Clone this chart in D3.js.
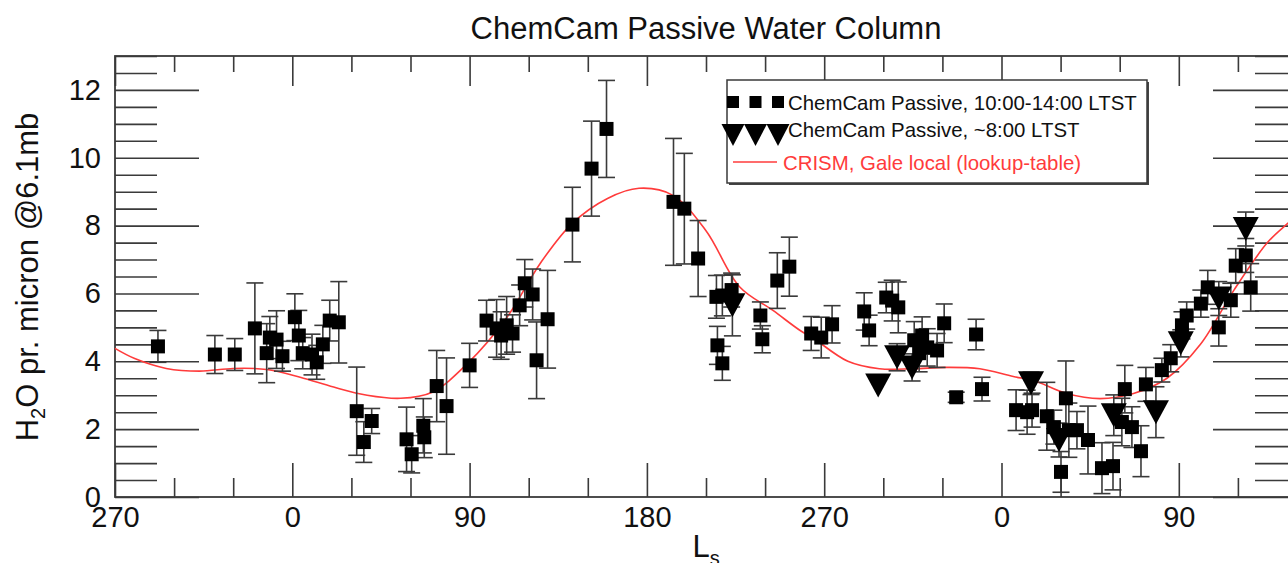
<!DOCTYPE html>
<html>
<head>
<meta charset="utf-8">
<script src="https://cdn.jsdelivr.net/npm/d3@7"></script>
<style>
  body { margin: 0; background: #fff; }
  svg { display: block; font-family: "Liberation Sans", Arial, Helvetica, sans-serif; }
</style>
</head>
<body>
<div id="chart"></div>
<script>
// ChemCam passive, 10:00-14:00 LTST (cumulative Ls, H2O, 1-sigma)
const squareLs = [291.8, 320.7, 330.8, 341, 347, 348.6, 352, 355, 361.3, 363.3, 365.3, 370, 372.4, 375.5, 379, 383.6,
  392.7, 396.3, 400.3, 418, 420.6, 426.5, 427, 433.3, 438.3, 450, 458.6, 463.7, 466, 468.8, 471.8, 475.4, 478, 482,
  484, 489.6, 502.2, 511.9, 519.5, 553.5, 559, 566, 575.3, 575.8, 578.3, 578.3, 583, 597.6, 598.6, 606.2, 612.3,
  623.4, 628.5, 634, 650.3, 652.8, 661.5, 664.5, 667.6, 675.7, 679.7, 682.3, 678.2, 687.3, 690.9, 697, 707.1, 710.1,
  727.4, 733, 735.5, 743, 752.7, 746.6, 754.2, 758.3, 750.2, 763.9, 771, 776.6, 782.6, 781.1, 786.2, 790.8, 793.3,
  801.4, 805.9, 811.6, 814, 821.2, 824.7, 830.3, 836.4, 838.9, 844, 846.5];
const squareH2O = [4.44, 4.2, 4.2, 4.97, 4.24, 4.7, 4.64, 4.15, 5.3, 4.76, 4.24, 4.2, 3.97, 4.5, 5.2, 5.15,
  2.53, 1.62, 2.24, 1.7, 1.26, 2.1, 1.76, 3.27, 2.68, 3.88, 5.2, 4.97, 4.76, 5.06, 4.82, 5.65, 6.3, 5.97,
  4.03, 5.24, 8.03, 9.68, 10.85, 8.7, 8.5, 7.03, 5.9, 4.47, 3.94, 5.94, 6.1, 5.35, 4.65, 6.38, 6.79,
  4.82, 4.7, 5.09, 5.47, 4.91, 5.88, 5.79, 5.59, 4.62, 4.76, 4.41, 4.24, 4.32, 5.12, 2.94, 4.79, 3.18,
  2.56, 2.5, 2.56, 2.38, 2.91, 2.06, 1.97, 1.97, 0.74, 1.68, 0.85, 0.91, 3.18, 2.21, 2.06, 1.35, 3.32,
  3.74, 4.09, 5.06, 5.35, 5.7, 6.18, 5.0, 5.8, 6.82, 7.12, 6.18];
const squareErr = [0.47, 0.56, 0.47, 1.34, 0.87, 0.62, 0.85, 0.44, 0.69, 0.74, 0.46, 0.6, 0.5, 0.56, 0.6, 1.2,
  1.3, 0.6, 0.37, 0.95, 0.55, 0.8, 0.6, 1.05, 1.42, 0.65, 0.6, 0.85, 0.7, 0.85, 0.55, 0.6, 0.7, 0.75,
  1.13, 1.44, 1.1, 1.4, 1.43, 1.87, 1.63, 1.12, 0.63, 0.56, 0.5, 0.6, 0.5, 0.4, 0.4, 0.82, 0.87,
  0.5, 0.6, 0.55, 0.55, 0.45, 0.45, 0.6, 0.75, 0.55, 0.55, 0.55, 0.55, 0.5, 0.57, 0.15, 0.45, 0.35,
  0.6, 0.65, 0.5, 1.0, 1.1, 0.5, 0.8, 0.55, 0.6, 1.0, 0.75, 0.7, 0.7, 0.7, 0.6, 0.75, 0.5,
  0.35, 0.4, 0.4, 0.4, 0.4, 0.5, 0.55, 0.5, 0.5, 0.5, 0.7];

// ChemCam passive, ~8:00 LTST
const triLs = [583.4, 657.4, 667, 674.6, 735, 749.2, 777, 798.4, 811, 830.3, 844];
const triH2O = [5.65, 3.29, 4.12, 3.82, 3.35, 1.68, 2.41, 2.5, 4.53, 5.85, 7.9];
const triErr = [0.9, 0, 0.4, 0.4, 0.33, 0.5, 0.6, 0.75, 0.4, 0.5, 0.5];

// CRISM, Gale local (lookup-table)
const crismLs = [270, 280, 296, 313, 330, 347, 364, 381, 398, 415, 431, 449, 469, 486, 502, 520, 536, 553, 570,
  587, 604, 618, 624, 642, 658, 675, 692, 709, 726, 736, 753, 770, 787, 804, 821, 838, 855, 865, 870];
const crismH2O = [4.38, 4.08, 3.79, 3.71, 3.79, 3.76, 3.53, 3.24, 3.0, 2.91, 3.09, 3.94, 5.3, 6.9, 8.06, 8.8, 9.1, 8.9, 7.85,
  6.2, 5.5, 4.9, 4.7, 4.0, 3.78, 3.78, 3.82, 3.78, 3.55, 3.44, 3.05, 2.9, 3.05, 3.5, 4.5, 6.1, 7.5, 8.05, 8.3];

const xMajor = [270, 360, 450, 540, 630, 720, 810];
const xMinor = d3.range(270, 871, 30).filter(d => !xMajor.includes(d));
const yMajor = [0, 2, 4, 6, 8, 10, 12];
const yMinor = d3.range(0.5, 13.01, 0.5).filter(d => !yMajor.includes(d));

const legendLabels = ["ChemCam Passive, 10:00-14:00 LTST", "ChemCam Passive, ~8:00 LTST", "CRISM, Gale local (lookup-table)"];

const width = 1288, height = 563;
const plotLeft = 115, plotRight = 1297, plotTop = 56, plotBottom = 497;
const ink = '#3a3a3a';
const red = '#ff3b3b';

const svg = d3.select('#chart').append('svg')
    .attr('width', width)
    .attr('height', height);

svg.append('rect').attr('width', width).attr('height', height).attr('fill', '#fff');

const x = d3.scaleLinear().domain([270, 870]).range([plotLeft, plotRight]);
const y = d3.scaleLinear().domain([0, 13]).range([plotBottom, plotTop]);

// axes: long ticks pointing into the plot, mirrored on top and right
function styleAxis(g) {
    g.select('.domain').remove();
    g.selectAll('.tick line').attr('stroke', ink).attr('stroke-width', 1.6);
    g.selectAll('.tick text').attr('fill', '#111').style('font-size', '29px');
}

svg.append('g').attr('transform', `translate(0,${plotBottom})`)
    .call(d3.axisBottom(x).tickValues(xMajor).tickSizeInner(-34).tickSizeOuter(0).tickPadding(9)
        .tickFormat(d => d % 360))
    .call(styleAxis);
svg.append('g').attr('transform', `translate(0,${plotBottom})`)
    .call(d3.axisBottom(x).tickValues(xMinor).tickSizeInner(-19).tickSizeOuter(0).tickFormat(''))
    .call(styleAxis);
svg.append('g').attr('transform', `translate(0,${plotTop})`)
    .call(d3.axisTop(x).tickValues(xMajor).tickSizeInner(-30).tickSizeOuter(0).tickFormat(''))
    .call(styleAxis);
svg.append('g').attr('transform', `translate(0,${plotTop})`)
    .call(d3.axisTop(x).tickValues(xMinor).tickSizeInner(-16).tickSizeOuter(0).tickFormat(''))
    .call(styleAxis);

svg.append('g').attr('transform', `translate(${plotLeft},0)`)
    .call(d3.axisLeft(y).tickValues(yMajor).tickSizeInner(-84).tickSizeOuter(0).tickPadding(14))
    .call(styleAxis);
svg.append('g').attr('transform', `translate(${plotLeft},0)`)
    .call(d3.axisLeft(y).tickValues(yMinor).tickSizeInner(-42).tickSizeOuter(0).tickFormat(''))
    .call(styleAxis);
svg.append('g').attr('transform', `translate(${plotRight},0)`)
    .call(d3.axisRight(y).tickValues(yMajor).tickSizeInner(-84).tickSizeOuter(0).tickFormat(''))
    .call(styleAxis);
svg.append('g').attr('transform', `translate(${plotRight},0)`)
    .call(d3.axisRight(y).tickValues(yMinor).tickSizeInner(-42).tickSizeOuter(0).tickFormat(''))
    .call(styleAxis);

// frame
svg.append('rect')
    .attr('x', plotLeft).attr('y', plotTop)
    .attr('width', plotRight - plotLeft).attr('height', plotBottom - plotTop)
    .attr('fill', 'none').attr('stroke', ink).attr('stroke-width', 1.8);

// CRISM curve
const line = d3.line().x(d => x(d[0])).y(d => y(d[1])).curve(d3.curveCatmullRom);
svg.append('path')
    .datum(crismLs.map((d, i) => [d, crismH2O[i]]))
    .attr('d', line)
    .attr('fill', 'none')
    .attr('stroke', red)
    .attr('stroke-width', 1.6);

const squares = squareLs.map((d, i) => ({ ls: d, v: squareH2O[i], e: squareErr[i] }));
const tris = triLs.map((d, i) => ({ ls: d, v: triH2O[i], e: triErr[i] }));

// error bars with caps
function drawErrors(data) {
    const g = svg.append('g').attr('stroke', ink).attr('stroke-width', 1.6);
    const withErr = data.filter(d => d.e > 0);
    g.selectAll('.stem').data(withErr).enter().append('line')
        .attr('x1', d => x(d.ls)).attr('x2', d => x(d.ls))
        .attr('y1', d => y(d.v + d.e)).attr('y2', d => y(d.v - d.e));
    g.selectAll('.capTop').data(withErr).enter().append('line')
        .attr('x1', d => x(d.ls) - 8.5).attr('x2', d => x(d.ls) + 8.5)
        .attr('y1', d => y(d.v + d.e)).attr('y2', d => y(d.v + d.e));
    g.selectAll('.capBot').data(withErr).enter().append('line')
        .attr('x1', d => x(d.ls) - 8.5).attr('x2', d => x(d.ls) + 8.5)
        .attr('y1', d => y(d.v - d.e)).attr('y2', d => y(d.v - d.e));
}
drawErrors(squares);
drawErrors(tris);

// downward triangle centred on its bounding box
function triPath(w, h) {
    return `M${-w / 2},${-h / 2}L${w / 2},${-h / 2}L0,${h / 2}Z`;
}

svg.selectAll('rect.sq').data(squares).enter().append('rect')
    .attr('class', 'sq')
    .attr('x', d => x(d.ls) - 7).attr('y', d => y(d.v) - 7)
    .attr('width', 14).attr('height', 14)
    .attr('fill', '#000');

svg.selectAll('path.tri').data(tris).enter().append('path')
    .attr('class', 'tri')
    .attr('transform', d => `translate(${x(d.ls)},${y(d.v)})`)
    .attr('d', triPath(26, 24))
    .attr('fill', '#000');

// title and axis labels
svg.append('text')
    .attr('x', (plotLeft + plotRight) / 2).attr('y', 39)
    .attr('text-anchor', 'middle')
    .style('font-size', '31px').attr('fill', '#111')
    .text('ChemCam Passive Water Column');

const yLab = svg.append('text')
    .attr('transform', 'translate(38,277) rotate(-90)')
    .attr('text-anchor', 'middle')
    .style('font-size', '31px').attr('fill', '#111');
yLab.append('tspan').text('H');
yLab.append('tspan').attr('dy', 7).style('font-size', '20px').text('2');
yLab.append('tspan').attr('dy', -7).text('O pr. micron @6.1mb');

const xLab = svg.append('text')
    .attr('x', 706).attr('y', 557)
    .attr('text-anchor', 'middle')
    .style('font-size', '31px').attr('fill', '#111');
xLab.append('tspan').text('L');
xLab.append('tspan').attr('dy', 8).style('font-size', '20px').text('s');

// legend
const lg = svg.append('g').attr('transform', 'translate(727,80)');
lg.append('rect').attr('x', 2).attr('y', 2).attr('width', 420).attr('height', 103)
    .attr('fill', '#444');
lg.append('rect').attr('width', 420).attr('height', 103)
    .attr('fill', '#fff').attr('stroke', ink).attr('stroke-width', 1.5);

const markOffsets = [6, 28.5, 51];
lg.selectAll('rect.lsq').data(markOffsets).enter().append('rect')
    .attr('class', 'lsq')
    .attr('x', d => d - 6).attr('y', 16)
    .attr('width', 12).attr('height', 12)
    .attr('fill', '#000');
lg.selectAll('path.ltri').data(markOffsets).enter().append('path')
    .attr('class', 'ltri')
    .attr('transform', d => `translate(${d},${55})`)
    .attr('d', triPath(23, 22))
    .attr('fill', '#000');
lg.append('line')
    .attr('x1', 6).attr('x2', 50).attr('y1', 82).attr('y2', 82)
    .attr('stroke', red).attr('stroke-width', 1.6);

lg.selectAll('text').data(legendLabels).enter().append('text')
    .attr('x', (d, i) => i === 2 ? 56 : 61)
    .attr('y', (d, i) => [30, 57, 90][i])
    .style('font-size', '20.4px')
    .attr('fill', (d, i) => i === 2 ? red : '#111')
    .text(d => d);
</script>
</body>
</html>
